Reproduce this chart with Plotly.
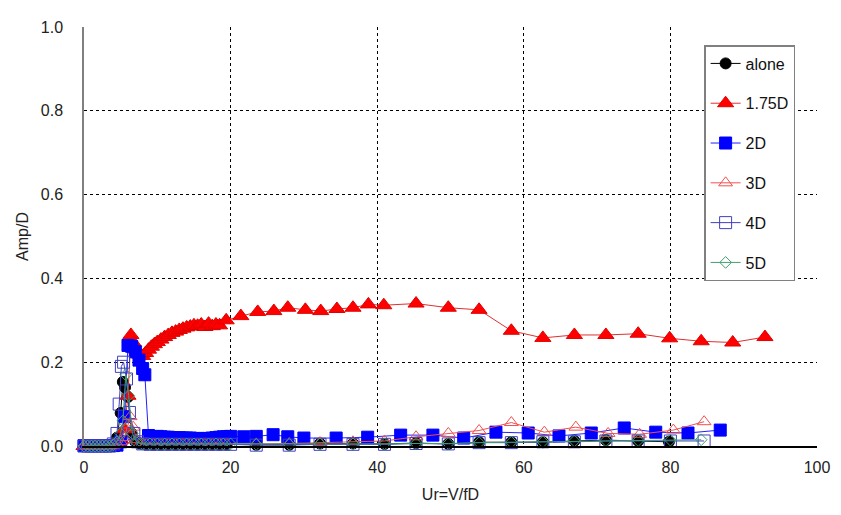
import plotly.graph_objects as go

# ---------------- data ----------------
dense_x = [0, 0.5, 1, 1.5, 2, 2.5, 3, 3.5, 4, 4.5]

alone_x = dense_x + [5.0, 5.3, 5.6, 6.0, 6.5, 7, 7.5, 8, 8.5, 9, 9.5, 10, 10.5, 11, 11.5, 12,
                     12.5, 13, 13.5, 14, 14.5, 15, 15.5, 16, 16.5, 17, 17.5, 18, 18.5, 19, 19.5,
                     23.5, 28, 32.2, 36.7, 41, 45.3, 49.7, 53.9, 58.3, 62.6, 66.9, 71.2, 75.6, 79.8]
alone_y = [0, 0, 0, 0, 0, 0, 0, 0, 0.002, 0.02,
           0.079, 0.153, 0.14, 0.117, 0.03, 0.01, 0.006, 0.005, 0.005, 0.005, 0.005, 0.005,
           0.005, 0.005, 0.005, 0.005, 0.005, 0.005, 0.005, 0.005, 0.005, 0.005, 0.005, 0.005,
           0.005, 0.005, 0.005, 0.005, 0.005, 0.005, 0.005,
           0.003, 0.003, 0.006, 0.006, 0.005, 0.007, 0.005, 0.009, 0.009, 0.009, 0.012,
           0.014, 0.012, 0.01]

d175_x = dense_x + [5.0, 5.5, 6.0, 6.4, 6.8, 7.2, 7.6, 8.0, 8.4, 8.8, 9.2, 9.6, 10, 10.5, 11,
                    11.5, 12, 12.5, 13, 13.5, 14, 14.5, 15, 15.5, 16, 16.5, 17, 17.5, 18, 18.5,
                    19.4, 21.4, 23.7, 25.9, 27.8, 30.2, 32.3, 34.5, 36.7, 38.8, 40.9, 45.3,
                    49.7, 53.9, 58.3, 62.6, 66.9, 71.2, 75.6, 79.9, 84.2, 88.5, 92.9]
d175_y = [0, 0, 0, 0, 0, 0, 0, 0, 0.002, 0.005,
          0.015, 0.04, 0.12, 0.265, 0.245, 0.23, 0.218, 0.215, 0.222, 0.23, 0.237, 0.243,
          0.248, 0.254, 0.26, 0.265, 0.27, 0.273, 0.277, 0.28, 0.283, 0.285, 0.288, 0.287,
          0.29, 0.284, 0.292, 0.286, 0.29, 0.288,
          0.30, 0.31, 0.32, 0.322, 0.33, 0.325, 0.322, 0.327, 0.33, 0.338, 0.336, 0.34,
          0.33, 0.325, 0.275, 0.258, 0.265, 0.265, 0.268, 0.257, 0.25, 0.247, 0.26]

d2_x = dense_x + [5.0, 5.5, 6.0, 6.5, 7.0, 7.5, 8.0, 8.3, 8.8, 9.3, 10, 10.5, 11, 11.5, 12,
                  12.5, 13, 13.5, 14, 14.5, 15, 15.5, 16, 16.5, 17, 17.5, 18, 18.5, 19, 19.5, 20,
                  21.8, 23.5, 25.8, 27.8, 30, 34.4, 38.7, 43.2, 47.6, 51.8, 56.2, 60.6, 64.8,
                  69.2, 73.7, 78, 82.4, 86.8]
d2_y = [0.001, 0.001, 0.001, 0.001, 0.001, 0.001, 0.001, 0.001, 0.001, 0.002,
        0.01, 0.07, 0.24, 0.238, 0.225, 0.205, 0.185, 0.17, 0.025, 0.022, 0.023, 0.022,
        0.021, 0.021, 0.02, 0.02, 0.02, 0.019, 0.019, 0.019, 0.018, 0.018, 0.018, 0.018,
        0.018, 0.019, 0.02, 0.021, 0.022, 0.022, 0.023,
        0.022, 0.023, 0.027, 0.022, 0.019, 0.019, 0.021, 0.026, 0.026, 0.019, 0.033, 0.031,
        0.024, 0.031, 0.043, 0.033, 0.031, 0.038]

d3_x = dense_x + [5.0, 5.5, 6.0, 6.3, 6.7, 7.2, 7.7, 8.5, 9.5, 10.5, 11.5, 12.5, 13.5, 14.5,
                  15.5, 16.5, 17.5, 18.5, 19.5, 23.5, 28, 32.2, 36.7, 41, 45.3, 49.7, 53.9,
                  58.3, 62.8, 67.1, 71.5, 75.8, 80.4, 84.6]
d3_y = [0, 0, 0, 0, 0, 0, 0, 0, 0.002, 0.005,
        0.01, 0.02, 0.05, 0.07, 0.045, 0.015, 0.006, 0.004, 0.004, 0.004, 0.004, 0.004,
        0.004, 0.004, 0.004, 0.004, 0.004, 0.004, 0.004, 0.005, 0.006, 0.008, 0.01, 0.012,
        0.022, 0.03, 0.037, 0.056, 0.033, 0.045, 0.03, 0.028, 0.038, 0.058]

d4_x = dense_x + [4.8, 5.1, 5.4, 5.8, 6.2, 6.8, 7.3, 8, 9, 10, 11, 12, 13, 14, 15, 16, 17,
                  18, 19, 20, 23.5, 28, 32.2, 36.7, 41, 45.3, 49.7, 53.9, 58.3, 62.6, 66.9,
                  71.2, 75.6, 80, 84.6]
d4_y = [0, 0, 0, 0, 0, 0, 0, 0, 0.005, 0.03,
        0.1, 0.19, 0.2, 0.16, 0.08, 0.03, 0.01, 0.005, 0.004, 0.004, 0.004, 0.004, 0.004,
        0.004, 0.004, 0.004, 0.004, 0.004, 0.004, 0.004, 0.002, 0.002, 0.004, 0.004, 0.004,
        0.006, 0.005, 0.008, 0.008, 0.01, 0.01, 0.012, 0.012, 0.012, 0.012]

d5_x = dense_x + [5.0, 5.3, 5.7, 6.1, 6.6, 7.2, 8, 9, 10, 11, 12, 13, 14, 15, 16, 17, 18, 19,
                  20, 23.5, 28, 32.2, 36.7, 41, 45.3, 49.7, 53.9, 58.3, 62.6, 66.9, 71.2,
                  75.6, 80, 84.2]
d5_y = [0, 0, 0, 0, 0, 0, 0, 0, 0.003, 0.01,
        0.03, 0.06, 0.17, 0.12, 0.03, 0.008, 0.005, 0.005, 0.005, 0.005, 0.005, 0.005,
        0.005, 0.005, 0.005, 0.005, 0.005, 0.005, 0.005, 0.004, 0.004, 0.005, 0.005, 0.005,
        0.006, 0.006, 0.008, 0.009, 0.01, 0.012, 0.013, 0.013, 0.014, 0.015]

x_ticks = [0, 20, 40, 60, 80, 100]
y_ticks = [0.0, 0.2, 0.4, 0.6, 0.8, 1.0]
y_tick_labels = ["0.0", "0.2", "0.4", "0.6", "0.8", "1.0"]

# ---------------- figure ----------------
FONT = "Arial, Liberation Sans, sans-serif"

series = [
    ("alone", alone_x, alone_y, "circle", 11, "#000000", "#000000", "#000000"),
    ("1.75D", d175_x, d175_y, "triangle-up", 14, "#ff0000", "#e00000", "#e03030"),
    ("2D", d2_x, d2_y, "square", 12, "#0000ff", "#0000ff", "#2020ff"),
    ("3D", d3_x, d3_y, "triangle-up-open", 12, "#f05050", "#f05050", "#f05050"),
    ("4D", d4_x, d4_y, "square-open", 12, "#4040c0", "#4040c0", "#4040c0"),
    ("5D", d5_x, d5_y, "diamond-open", 9, "#40a070", "#40a070", "#40a070"),
]

fig = go.Figure()
for name, xs, ys, sym, size, fill, outline, lcol in series:
    fig.add_trace(go.Scatter(
        x=xs, y=ys, name=name, mode="lines+markers",
        legendgroup=name,
        line=dict(color=lcol, width=1),
        marker=dict(symbol=sym, size=size, color=fill,
                    line=dict(color=outline, width=1)),
        cliponaxis=False,
    ))

fig.update_layout(
    width=833, height=507,
    margin=dict(l=76, r=24, t=19, b=69),
    paper_bgcolor="white", plot_bgcolor="white",
    font=dict(family=FONT, size=16, color="#222222"),
    showlegend=True,
    legend=dict(
        x=0.846, y=0.957, xanchor="left", yanchor="top",
        bgcolor="white", bordercolor="#808080", borderwidth=1.5,
        font=dict(family=FONT, size=16, color="#111111"),
        tracegroupgap=16,
        itemwidth=30,
    ),
    xaxis=dict(
        range=[0, 100], tickvals=x_ticks, ticktext=[str(v) for v in x_ticks],
        showgrid=True, gridcolor="#000000", griddash="dot", gridwidth=1,
        zeroline=False, showline=True, linecolor="#000000", linewidth=1.5,
        ticks="", ticklabelstandoff=6,
        tickfont=dict(size=16),
        title=dict(text="Ur=V/fD", font=dict(size=16), standoff=14),
    ),
    yaxis=dict(
        range=[0, 1], tickvals=y_ticks, ticktext=y_tick_labels,
        showgrid=True, gridcolor="#000000", griddash="dot", gridwidth=1,
        zeroline=False, showline=True, linecolor="#808080", linewidth=1.5,
        ticks="", ticklabelstandoff=16,
        tickfont=dict(size=16),
        title=dict(text="Amp/D", font=dict(size=16), standoff=8),
    ),
)

fig.write_html("out.html")
